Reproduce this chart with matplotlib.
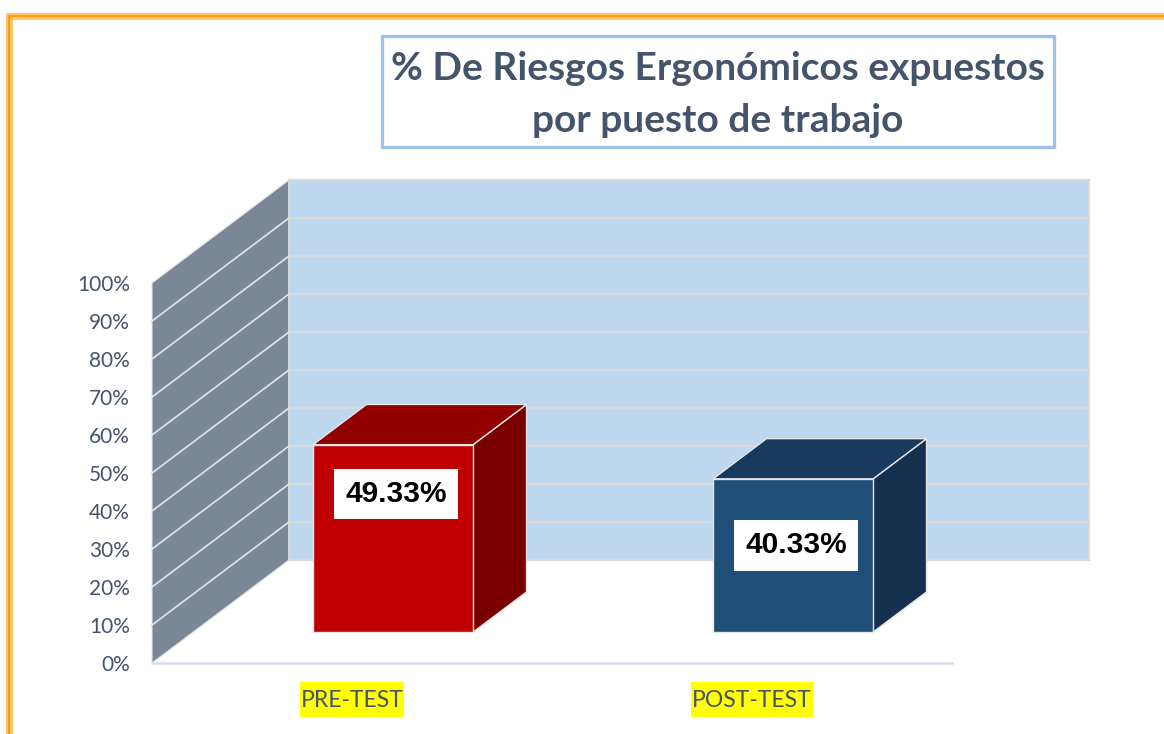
import matplotlib
matplotlib.use("Agg")
import matplotlib.pyplot as plt
from matplotlib.patches import Polygon, Rectangle
from matplotlib.lines import Line2D

# datos del gráfico
categories = ["PRE-TEST", "POST-TEST"]
values = [49.33, 40.33]
value_labels = ["49.33%", "40.33%"]
y_ticks = [0, 10, 20, 30, 40, 50, 60, 70, 80, 90, 100]
title_lines = ["% De Riesgos Ergonómicos expuestos", "por puesto de trabajo"]

# estilo
front_colors = ["#c00000", "#1f4e79"]
top_colors = ["#900000", "#173a5e"]
side_colors = ["#7a0000", "#15314f"]
label_drop = [13.0, 17.5]   # distancia de la etiqueta bajo la cara superior
text_color = "#44546a"

W, H = 1164, 734
fig = plt.figure(figsize=(W / 100, H / 100), dpi=100)
ax = fig.add_axes([0, 0, 1, 1])

# escala: 400 px por categoría, 3.8 px por punto porcentual
PX_CAT, PX_PCT = 400.0, 3.8
X0, Y0 = 152, 663          # esquina frontal del piso
ax.set_xlim(-0.5 - X0 / PX_CAT, -0.5 + (W - X0) / PX_CAT)
ax.set_ylim((Y0 - H) / PX_PCT, Y0 / PX_PCT)
ax.axis("off")

# profundidad oblicua de la caja 3D
DX, DY = 137 / PX_CAT, 103 / PX_PCT


def proj(x, y, d):
    return (x + d * DX, y + d * DY)


x_lo, x_hi = -0.5, len(categories) - 0.5
y_top = y_ticks[-1]

# pared lateral
ax.add_patch(Polygon([proj(x_lo, 0, 0), proj(x_lo, y_top, 0),
                      proj(x_lo, y_top, 1), proj(x_lo, 0, 1)],
                     closed=True, fc="#7a8896", ec="#dfe3e8", lw=0.8, zorder=1))
# pared del fondo
ax.add_patch(Polygon([proj(x_lo, 0, 1), proj(x_hi, 0, 1),
                      proj(x_hi, y_top, 1), proj(x_lo, y_top, 1)],
                     closed=True, fc="#bdd7ee", ec="#d9d9d9", lw=1.2, zorder=1))

for t in y_ticks:
    xs, ys = zip(proj(x_lo, t, 1), proj(x_hi, t, 1))
    ax.plot(xs, ys, color="#d9d9d9", lw=1.6, zorder=2)
    if 0 < t < y_top:
        xs, ys = zip(proj(x_lo, t, 0), proj(x_lo, t, 1))
        ax.plot(xs, ys, color="#dcdfe3", lw=1.3, zorder=2)

# línea frontal del piso
ax.plot([x_lo, x_hi], [0, 0], color="#d6dce5", lw=1.8, zorder=2)

# barras 3D
w, d0, d1 = 0.4, 0.30, 0.69
for i, v in enumerate(values):
    xl, xr = i - w / 2, i + w / 2
    front = [proj(xl, 0, d0), proj(xr, 0, d0), proj(xr, v, d0), proj(xl, v, d0)]
    top = [proj(xl, v, d0), proj(xr, v, d0), proj(xr, v, d1), proj(xl, v, d1)]
    side = [proj(xr, 0, d0), proj(xr, 0, d1), proj(xr, v, d1), proj(xr, v, d0)]
    for pts, c in ((side, side_colors[i]), (top, top_colors[i]), (front, front_colors[i])):
        ax.add_patch(Polygon(pts, closed=True, fc=c, ec="#e6e6e6", lw=1.0, zorder=3))
    lx, ly = proj(i, v, d0)
    ax.text(lx + 0.008, ly - label_drop[i], value_labels[i], ha="center", va="center",
            fontsize=21.5, fontweight="bold", family="Liberation Sans", color="black",
            zorder=4, bbox=dict(boxstyle="square,pad=0.38", fc="white", ec="none"))

# etiquetas del eje vertical
for t in y_ticks:
    ax.text(x_lo - (X0 - 130) / PX_CAT, t - 0.6, f"{t}%", ha="right", va="center",
            fontsize=15, family="Lato", color=text_color)

# categorías resaltadas en amarillo
cat_texts = [ax.text(i, -9.9, c, ha="center", va="center", fontsize=16.5, family="Lato",
                     color=text_color, zorder=4)
             for i, c in enumerate(categories)]
fig.canvas.draw()
renderer = fig.canvas.get_renderer()
for t in cat_texts:
    bb = t.get_window_extent(renderer)
    # resaltado más alto que el texto, como el de Word
    fig.add_artist(Rectangle((bb.x0 - 1, (H - 717)), bb.width + 2, 35,
                             transform=None, fc="#ffff00", ec="none", zorder=-1))

# cuadro del título
fig.add_artist(Rectangle((382 / W, 1 - 147 / H), (1054 - 382) / W, (147 - 36) / H,
                         transform=fig.transFigure, fc="white", ec="#9dc3e6", lw=2.4))
for k, line in enumerate(title_lines):
    fig.text(718 / W, 1 - (80 + 52 * k) / H, line, ha="center", va="baseline",
             fontsize=28, fontweight="bold", family="Lato", color=text_color)

# marco naranja
for c, lw in (("#ffc66e", 5.0), ("#ff9f10", 1.6)):
    xs = [9 / W, 9 / W, 1.0]
    ys = [0.0, 1 - 16 / H, 1 - 16 / H]
    fig.add_artist(Line2D(xs, ys, transform=fig.transFigure, color=c, lw=lw,
                          solid_joinstyle="miter"))

fig.savefig("out.png", dpi=100)
